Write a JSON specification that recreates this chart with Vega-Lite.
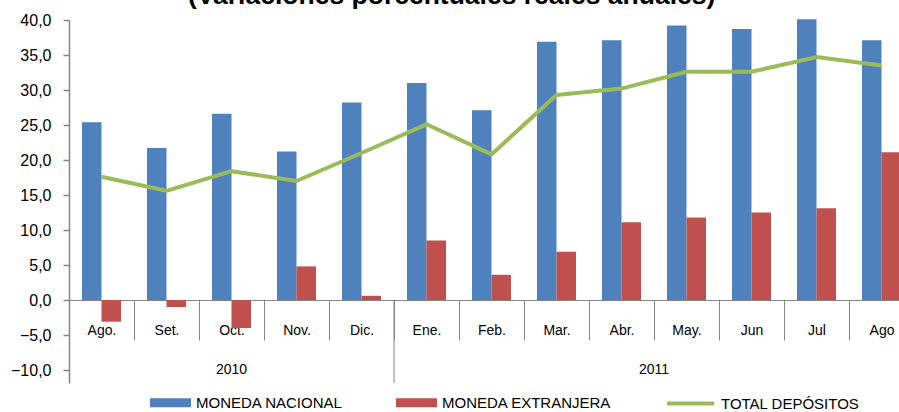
{
  "$schema": "https://vega.github.io/schema/vega-lite/v6.json",
  "width": 845,
  "height": 363,
  "autosize": {"type": "none"},
  "padding": {"left": 69, "top": 20, "right": -15, "bottom": 29},
  "background": "white",
  "title": {
    "text": "(Variaciones porcentuales reales anuales)",
    "anchor": "start",
    "frame": "group",
    "dx": 119,
    "offset": 3,
    "fontSize": 26.5,
    "fontWeight": "bold",
    "font": "Liberation Sans",
    "color": "#000000"
  },
  "config": {
    "font": "Liberation Sans",
    "view": {"stroke": null},
    "axis": {"domainColor": "#868686", "tickColor": "#868686", "labelColor": "#000000", "grid": false, "labelFont": "Liberation Sans"},
    "legend": {"labelFont": "Liberation Sans", "labelColor": "#000000"}
  },
  "data": {
    "values": [
      {"anio": "2010", "mes": "Ago.", "MONEDA NACIONAL": 25.4, "MONEDA EXTRANJERA": -3.1, "TOTAL DEPÓSITOS": 17.6},
      {"anio": "2010", "mes": "Set.", "MONEDA NACIONAL": 21.7, "MONEDA EXTRANJERA": -1.0, "TOTAL DEPÓSITOS": 15.6},
      {"anio": "2010", "mes": "Oct.", "MONEDA NACIONAL": 26.6, "MONEDA EXTRANJERA": -4.0, "TOTAL DEPÓSITOS": 18.4},
      {"anio": "2010", "mes": "Nov.", "MONEDA NACIONAL": 21.2, "MONEDA EXTRANJERA": 4.8, "TOTAL DEPÓSITOS": 17.0},
      {"anio": "2010", "mes": "Dic.", "MONEDA NACIONAL": 28.2, "MONEDA EXTRANJERA": 0.6, "TOTAL DEPÓSITOS": 21.0},
      {"anio": "2011", "mes": "Ene.", "MONEDA NACIONAL": 31.0, "MONEDA EXTRANJERA": 8.5, "TOTAL DEPÓSITOS": 25.1},
      {"anio": "2011", "mes": "Feb.", "MONEDA NACIONAL": 27.1, "MONEDA EXTRANJERA": 3.6, "TOTAL DEPÓSITOS": 20.8},
      {"anio": "2011", "mes": "Mar.", "MONEDA NACIONAL": 36.9, "MONEDA EXTRANJERA": 6.9, "TOTAL DEPÓSITOS": 29.3},
      {"anio": "2011", "mes": "Abr.", "MONEDA NACIONAL": 37.1, "MONEDA EXTRANJERA": 11.1, "TOTAL DEPÓSITOS": 30.2},
      {"anio": "2011", "mes": "May.", "MONEDA NACIONAL": 39.2, "MONEDA EXTRANJERA": 11.8, "TOTAL DEPÓSITOS": 32.6},
      {"anio": "2011", "mes": "Jun", "MONEDA NACIONAL": 38.7, "MONEDA EXTRANJERA": 12.5, "TOTAL DEPÓSITOS": 32.6},
      {"anio": "2011", "mes": "Jul", "MONEDA NACIONAL": 40.1, "MONEDA EXTRANJERA": 13.1, "TOTAL DEPÓSITOS": 34.7},
      {"anio": "2011", "mes": "Ago", "MONEDA NACIONAL": 37.1, "MONEDA EXTRANJERA": 21.1, "TOTAL DEPÓSITOS": 33.5}
    ]
  },
  "encoding": {
    "x": {
      "field": "mes",
      "type": "nominal",
      "sort": null,
      "scale": {
        "type": "band",
        "domain": ["Ago.", "Set.", "Oct.", "Nov.", "Dic.", "Ene.", "Feb.", "Mar.", "Abr.", "May.", "Jun", "Jul", "Ago"],
        "paddingInner": 0,
        "paddingOuter": 0
      },
      "axis": {
        "orient": "bottom",
        "offset": -83,
        "title": null,
        "labelAngle": 0,
        "tickSize": 40,
        "tickBand": "extent",
        "labelPadding": -17,
        "labelFontSize": 14,
        "labelOverlap": false,
        "domainWidth": 1,
        "tickWidth": 1
      }
    },
    "y": {
      "type": "quantitative",
      "scale": {"domain": [-11.857, 40], "nice": false, "zero": false},
      "axis": {
        "title": null,
        "values": [-10, -5, 0, 5, 10, 15, 20, 25, 30, 35, 40],
        "labelExpr": "replace(format(datum.value, '.1f'), '.', ',')",
        "labelOverlap": false,
        "labelFlush": false,
        "tickSize": 6,
        "labelPadding": 12,
        "labelFontSize": 16,
        "domainWidth": 1.5,
        "tickWidth": 1.5
      }
    }
  },
  "layer": [
    {
      "transform": [{"fold": ["MONEDA NACIONAL", "MONEDA EXTRANJERA"], "as": ["serie", "valor"]}],
      "mark": {"type": "bar"},
      "encoding": {
        "xOffset": {
          "field": "serie",
          "type": "nominal",
          "sort": ["MONEDA NACIONAL", "MONEDA EXTRANJERA"],
          "scale": {"paddingInner": 0, "paddingOuter": 0.667}
        },
        "y": {
          "field": "valor",
          "type": "quantitative",
          "scale": {"domain": [-11.857, 40], "nice": false, "zero": false},
          "axis": {
            "title": null,
            "values": [-10, -5, 0, 5, 10, 15, 20, 25, 30, 35, 40],
            "labelExpr": "replace(format(datum.value, '.1f'), '.', ',')",
            "labelOverlap": false,
            "labelFlush": false,
            "tickSize": 6,
            "labelPadding": 12,
            "labelFontSize": 16,
            "domainWidth": 1.5,
            "tickWidth": 1.5
          }
        },
        "color": {
          "field": "serie",
          "type": "nominal",
          "scale": {"domain": ["MONEDA NACIONAL", "MONEDA EXTRANJERA"], "range": ["#4F81BD", "#C0504D"]},
          "legend": {
            "orient": "none",
            "legendX": 81,
            "legendY": 362,
            "direction": "horizontal",
            "title": null,
            "symbolType": "M-1,-0.22L1,-0.22L1,0.22L-1,0.22Z",
            "symbolSize": 1681,
            "symbolStrokeWidth": 0,
            "labelFontSize": 15,
            "labelOffset": 5,
            "columnPadding": 53,
            "padding": 0,
            "labelLimit": 300
          }
        }
      }
    },
    {
      "mark": {"type": "line", "strokeWidth": 4, "strokeJoin": "round"},
      "encoding": {
        "y": {
          "field": "TOTAL DEPÓSITOS",
          "type": "quantitative",
          "scale": {"domain": [-11.857, 40], "nice": false, "zero": false},
          "axis": {
            "title": null,
            "values": [-10, -5, 0, 5, 10, 15, 20, 25, 30, 35, 40],
            "labelExpr": "replace(format(datum.value, '.1f'), '.', ',')",
            "labelOverlap": false,
            "labelFlush": false,
            "tickSize": 6,
            "labelPadding": 12,
            "labelFontSize": 16,
            "domainWidth": 1.5,
            "tickWidth": 1.5
          }
        },
        "stroke": {
          "datum": "TOTAL DEPÓSITOS",
          "scale": {"domain": ["TOTAL DEPÓSITOS"], "range": ["#9BBB59"]},
          "legend": {
            "orient": "none",
            "legendX": 596,
            "legendY": 358,
            "title": null,
            "symbolType": "stroke",
            "symbolSize": 2209,
            "symbolStrokeWidth": 4,
            "labelFontSize": 15,
            "labelOffset": 5,
            "padding": 0,
            "labelLimit": 300
          }
        }
      }
    },
    {
      "transform": [{"filter": "datum.mes === 'Ene.'"}],
      "mark": {"type": "rule", "color": "#868686", "strokeWidth": 1},
      "encoding": {
        "x": {"field": "mes", "type": "nominal", "bandPosition": 0},
        "y": {"datum": 0},
        "y2": {"datum": -11.857}
      }
    },
    {
      "transform": [{"filter": "datum.mes === 'Oct.'"}],
      "mark": {"type": "text", "fontSize": 14, "baseline": "middle", "align": "center", "color": "#000000"},
      "encoding": {
        "x": {"field": "mes", "type": "nominal", "bandPosition": 0.5},
        "y": {"datum": -10},
        "text": {"field": "anio"}
      }
    },
    {
      "transform": [{"filter": "datum.mes === 'Abr.'"}],
      "mark": {"type": "text", "fontSize": 14, "baseline": "middle", "align": "center", "color": "#000000"},
      "encoding": {
        "x": {"field": "mes", "type": "nominal", "bandPosition": 1},
        "y": {"datum": -10},
        "text": {"field": "anio"}
      }
    }
  ]
}
